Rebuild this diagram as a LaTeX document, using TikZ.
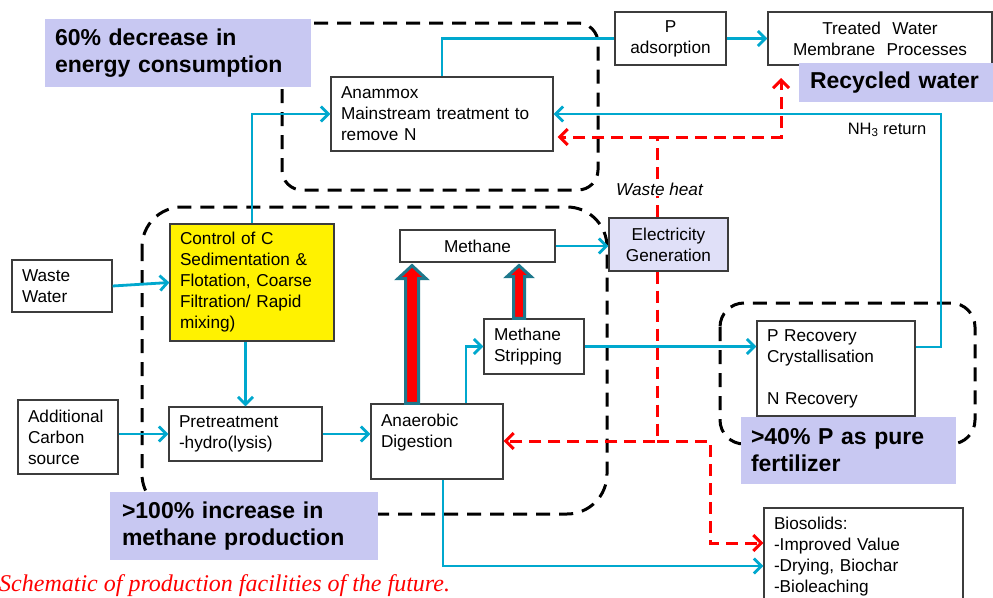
\documentclass[tikz,border=0pt]{standalone}
\usepackage{fontspec}
\setmainfont{Liberation Sans}
\newfontfamily\capfont{Liberation Serif}
\usetikzlibrary{arrows.meta,calc}
\definecolor{cyanline}{RGB}{0,168,206}
\definecolor{boxgray}{RGB}{60,60,60}
\definecolor{lav}{RGB}{200,200,242}
\definecolor{lavlight}{RGB}{224,224,248}
\definecolor{teal}{RGB}{30,120,140}
\begin{document}
\begin{tikzpicture}[x=1pt,y=-1pt,
  box/.style={draw=boxgray, line width=1.2pt, fill=white, inner xsep=10pt, inner ysep=0pt,
    font=\fontsize{17.2}{21}\selectfont, align=left},
  cbox/.style={box, align=center},
  lab/.style={fill=lav, inner xsep=10pt, inner ysep=0pt, font=\fontsize{23}{27}\selectfont\bfseries, align=left},
  region/.style={draw=black, line width=3pt, dash pattern=on 14pt off 9pt},
  flow/.style={draw=cyanline, line width=2.8pt},
  flowa/.style={flow, -{Straight Barb[length=7.5pt,width=15pt]}},
  heat/.style={draw=red, line width=3pt, dash pattern=on 12pt off 7pt},
  heata/.style={heat, -{Straight Barb[length=8pt,width=16pt]}},
  fat/.style={fill=red, draw=teal, line width=3pt, line join=miter}
]
\useasboundingbox (0,0) rectangle (993,597);
\fill[white] (0,0) rectangle (993,597);

% dashed regions
\draw[region, rounded corners=20pt] (282,23) rectangle (598,190);
\draw[region, rounded corners=40pt] (142,207) rectangle (607,514);
\draw[region, rounded corners=24pt] (720,303) rectangle (975,444);

% boxes
\node[box, text width=202pt, minimum height=74pt] (an) at (442,114) {Anammox\\Mainstream treatment to\\remove N};
\node[cbox, text width=91pt, minimum height=53pt] (pa) at (670.5,38.5) {P\\adsorption};
\node[cbox, text width=204pt, minimum height=53pt] (tw) at (880,38.5) {Treated\ \ Water\\Membrane\ \ Processes};
\node[box, text width=80pt, minimum height=52pt] (ww) at (62,286) {Waste\\Water};
\node[box, fill=yellow, text width=144pt, minimum height=117pt] (cc) at (252,282.5) {Control of C\\Sedimentation \&\\Flotation, Coarse\\Filtration/ Rapid\\mixing)};
\node[box, text width=80pt, minimum height=74pt] (ac) at (68,437) {Additional\\Carbon\\source};
\node[box, text width=133pt, minimum height=54pt] (pt) at (245.5,434) {Pretreatment\\-hydro(lysis)};
\node[box, text width=112pt, minimum height=75pt] (ad) at (437,441.5) {Anaerobic\\Digestion\\\mbox{}};
\node[cbox, text width=135pt, minimum height=32pt] (me) at (477.5,246) {Methane};
\node[box, text width=80pt, minimum height=55pt] (ms) at (534,346.5) {Methane\\Stripping};
\node[cbox, fill=lavlight, text width=99pt, minimum height=53pt] (eg) at (668.5,244.5) {Electricity\\Generation};
\node[box, text width=138pt, minimum height=95pt] (pr) at (836,368.5) {P Recovery\\Crystallisation\\\mbox{}\\N Recovery};
\node[box, text width=179pt, minimum height=97pt] (bs) at (863.5,556.5) {Biosolids:\\-Improved Value\\-Drying, Biochar\\-Bioleaching};

% helper coordinates
\coordinate (x412) at (412,0);
\coordinate (x519) at (519,0);
\coordinate (x466) at (466,0);
\coordinate (x443) at (443,0);
\coordinate (xh) at (657,0);
\coordinate (xnh) at (941,0);
\coordinate (y137) at (0,137);
\coordinate (y441) at (0,441);
\coordinate (y347) at (0,347);
\coordinate (y566) at (0,566);
\coordinate (y543) at (0,543);
\coordinate (rwtip) at (781,78);
\coordinate (bsturn) at (710,441);

% cyan flows
\draw[flowa] (ww.east) -- (cc.west);
\draw[flowa] (cc.north) -- (cc.north |- an.west) -- (an.west);
\draw[flow] (an.north) -- (an.north |- pa.west) -- (pa.west);
\draw[flowa] (pa.east) -- (tw.west);
\draw[flowa] (pr.east |- y347) -- (xnh |- y347) -- (xnh |- an.east) -- (an.east);
\draw[flowa] (pt.north |- cc.south) -- (pt.north);
\draw[flowa] (ac.east |- pt.west) -- (pt.west);
\draw[flowa] (pt.east) -- (ad.west |- pt.east);
\draw[flowa] (x466 |- ad.north) -- (x466 |- ms.west) -- (ms.west);
\draw[flowa] (me.east) -- (eg.west |- me.east);
\draw[flowa] (ms.east) -- (pr.west |- ms.east);
\draw[flowa] (x443 |- ad.south) -- (x443 |- y566) -- (bs.west |- y566);

% thick methane arrows
\coordinate (fa1b) at (x412 |- ad.north);
\coordinate (fa1t) at ($(x412 |- me.south)+(0,3)$);
\filldraw[fat] ($(fa1b)+(-6.5,0)$) -- ($(fa1t)+(-6.5,13)$) -- ($(fa1t)+(-14,13)$) -- (fa1t) -- ($(fa1t)+(14,13)$) -- ($(fa1t)+(6.5,13)$) -- ($(fa1b)+(6.5,0)$) -- cycle;
\coordinate (fa2b) at (x519 |- ms.north);
\coordinate (fa2t) at ($(x519 |- me.south)+(0,3)$);
\filldraw[fat] ($(fa2b)+(-5.5,0)$) -- ($(fa2t)+(-5.5,11)$) -- ($(fa2t)+(-12,11)$) -- (fa2t) -- ($(fa2t)+(12,11)$) -- ($(fa2t)+(5.5,11)$) -- ($(fa2b)+(5.5,0)$) -- cycle;

% waste heat (red dashed)
\draw[heata] (xh |- eg.north) -- (xh |- y137) -- ($(an.east |- y137)+(4,0)$);
\draw[heata] (xh |- y137) -- (rwtip |- y137) -- (rwtip);
\draw[heata] (xh |- eg.south) -- (xh |- y441) -- (ad.east |- y441);
\draw[heata] (xh |- y441) -- (bsturn) -- (bsturn |- y543) -- (bs.west |- y543);

% texts
\node[font=\fontsize{16.5}{20}\selectfont] (nh3) at (887,130) {NH\textsubscript{3} return};
\node[fill=white, inner sep=1pt, font=\fontsize{17.2}{21}\selectfont\itshape] (wh) at (659.5,189) {Waste heat};

% highlight labels
\node[lab, text width=246pt, minimum height=68pt] (l1) at (178,53) {60\% decrease in\\energy consumption};
\node[lab, inner xsep=11pt, text width=183pt, minimum height=39pt] (l2) at (901.5,82.5) {Recycled water};
\node[lab, text width=195pt, minimum height=67pt] (l3) at (848.5,450.5) {>40\% P as pure\\fertilizer};
\node[lab, inner xsep=12pt, text width=244pt, minimum height=68pt] (l4) at (244,526) {>100\% increase in\\methane production};

% caption
\node[anchor=base west, inner sep=0pt, text=red, font=\capfont\itshape\fontsize{24}{28}\selectfont] (cap) at (-1,591) {Schematic of production facilities of the future.};
\end{tikzpicture}
\end{document}
